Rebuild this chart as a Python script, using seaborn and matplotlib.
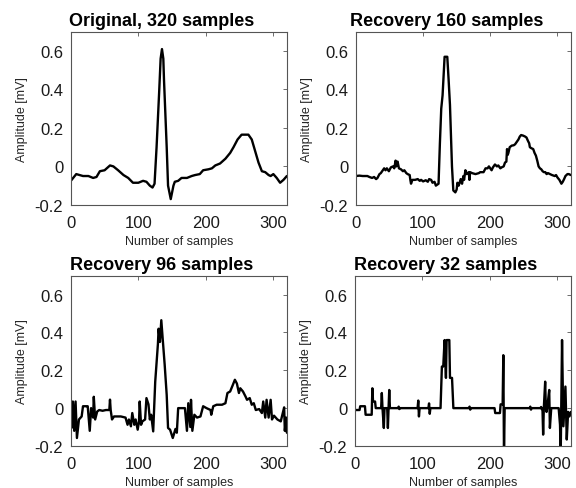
import numpy as np
import pandas as pd
import matplotlib
matplotlib.use("Agg")
import matplotlib.pyplot as plt
import seaborn as sns

# ---------------- data ----------------
titles = ["Original, 320 samples", "Recovery 160 samples",
          "Recovery 96 samples", "Recovery 32 samples"]
x_ticks = [0, 100, 200, 300]
y_ticks = [-0.2, 0, 0.2, 0.4, 0.6]
y_tick_labels = ["-0.2", "0", "0.2", "0.4", "0.6"]

orig_x = [0, 8, 13, 18, 26, 33, 38, 43, 50, 58,
          63, 70, 78, 85, 92, 100, 107, 112, 117, 121,
          124, 127, 131, 133, 135, 137, 138, 142, 144, 148,
          152, 154, 159, 164, 172, 179, 184, 191, 196, 204,
          209, 214, 221, 229, 236, 241, 247, 253, 263, 268,
          273, 278, 283, 288, 293, 296, 300, 305, 310, 315,
          320]
orig_y = [-0.075, -0.04, -0.045, -0.05, -0.05, -0.06, -0.055, -0.025, -0.02, 0.005,
          0.0, -0.02, -0.045, -0.06, -0.085, -0.085, -0.075, -0.08, -0.1, -0.11,
          -0.09, 0.1, 0.4, 0.56, 0.61, 0.56, 0.45, 0.1, -0.1, -0.17,
          -0.1, -0.08, -0.075, -0.06, -0.06, -0.05, -0.045, -0.04, -0.02, -0.015,
          -0.01, 0.005, 0.015, 0.04, 0.07, 0.1, 0.14, 0.165, 0.165, 0.14,
          0.08, 0.02, -0.025, -0.03, -0.045, -0.05, -0.04, -0.06, -0.085, -0.07,
          -0.05]

rec160_x = [0, 5, 10, 17, 20, 24, 27, 30, 32, 35,
            37, 40, 42, 44, 46, 49, 52, 55, 57, 59,
            60, 62, 64, 67, 70, 72, 75, 77, 80, 81,
            82, 84, 88, 92, 95, 97, 100, 104, 107, 109,
            112, 114, 117, 119, 121, 123, 125, 127, 129, 132,
            136, 138, 140, 143, 145, 148, 150, 151, 153, 156,
            158, 160, 161, 163, 165, 168, 169, 170, 173, 178,
            183, 185, 190, 193, 196, 198, 200, 202, 204, 207,
            210, 212, 215, 217, 220, 222, 224, 225, 226, 227,
            229, 232, 235, 237, 240, 242, 244, 246, 249, 252,
            254, 256, 258, 259, 261, 264, 266, 268, 270, 272,
            274, 276, 278, 280, 282, 284, 286, 289, 292, 296,
            298, 300, 303, 306, 308, 310, 312, 315, 317, 320]
rec160_y = [-0.05, -0.048, -0.05, -0.05, -0.055, -0.06, -0.055, -0.066, -0.06, -0.04,
            -0.035, -0.02, -0.01, -0.02, -0.01, -0.025, -0.005, 0.0, -0.01, 0.03,
            0.0, 0.025, -0.01, -0.015, -0.025, -0.02, -0.035, -0.04, -0.045, -0.07,
            -0.09, -0.07, -0.07, -0.066, -0.075, -0.07, -0.078, -0.072, -0.08, -0.066,
            -0.07, -0.085, -0.08, -0.1, -0.095, -0.09, 0.12, 0.3, 0.37, 0.57,
            0.57, 0.45, 0.32, 0.0, -0.125, -0.135, -0.12, -0.085, -0.1, -0.066,
            -0.09, -0.05, -0.07, -0.02, -0.04, -0.03, -0.07, -0.03, -0.035, -0.04,
            -0.035, -0.03, -0.03, -0.01, -0.01, 0.0, -0.01, -0.02, -0.005, 0.01,
            0.0, 0.005, -0.01, -0.005, 0.0, 0.02, 0.025, 0.09, 0.06, 0.07,
            0.1, 0.108, 0.11, 0.115, 0.13, 0.14, 0.155, 0.163, 0.16, 0.155,
            0.15, 0.134, 0.12, 0.1, 0.095, 0.09, 0.07, 0.056, 0.03, 0.0,
            -0.01, -0.015, -0.025, -0.03, -0.03, -0.04, -0.035, -0.04, -0.045, -0.05,
            -0.045, -0.057, -0.07, -0.09, -0.08, -0.066, -0.05, -0.04, -0.04, -0.045]

rec96_x = [0, 1, 3, 5, 7, 9, 12, 16, 18, 23,
           25, 28, 30, 33, 34, 36, 39, 42, 47, 52,
           57, 58, 59, 61, 64, 74, 81, 84, 86, 89,
           91, 94, 96, 99, 101, 102, 104, 106, 110, 112,
           115, 117, 119, 122, 125, 129, 130, 132, 134, 136,
           139, 142, 144, 147, 151, 155, 157, 159, 169, 172,
           174, 177, 178, 180, 183, 187, 192, 196, 201, 207,
           208, 211, 216, 224, 229, 232, 236, 240, 243, 246,
           249, 251, 255, 259, 261, 265, 268, 271, 274, 279,
           283, 285, 288, 290, 293, 296, 298, 301, 306, 311,
           313, 316, 317, 319, 320]
rec96_y = [-0.02, -0.105, 0.035, -0.12, 0.035, -0.158, -0.06, -0.044, 0.01, 0.01,
           0.01, -0.12, 0.0, -0.05, 0.06, -0.06, -0.018, -0.01, -0.014, -0.01,
           -0.01, 0.045, -0.01, -0.06, -0.044, -0.044, -0.05, -0.088, -0.06, -0.096,
           -0.026, -0.088, -0.06, -0.114, -0.07, 0.035, -0.088, -0.07, -0.06, 0.053,
           0.02, -0.06, -0.035, -0.123, 0.14, 0.34, 0.42, 0.35, 0.465, 0.37,
           0.23, 0.07, -0.105, -0.114, -0.158, -0.11, -0.13, 0.0, 0.0, -0.12,
           0.026, -0.1, 0.044, -0.12, -0.035, -0.05, -0.044, 0.01, 0.0, -0.01,
           -0.035, 0.01, 0.018, 0.018, 0.026, 0.08, 0.088, 0.123, 0.15, 0.13,
           0.08, 0.105, 0.088, 0.06, 0.044, 0.053, 0.018, 0.026, -0.01, -0.005,
           -0.026, 0.035, -0.05, 0.044, -0.05, 0.044, -0.06, -0.04, -0.06, -0.07,
           -0.04, 0.004, -0.12, -0.05, -0.13]

rec32_x = [0, 7, 8, 15, 16, 25, 26, 27, 30, 31,
           39, 40, 41, 43, 44, 48, 49, 50, 51, 52,
           64, 65, 66, 67, 93, 94, 95, 96, 109, 110,
           111, 112, 127, 129, 131, 133, 135, 136, 140, 141,
           144, 146, 169, 170, 171, 172, 207, 208, 215, 216,
           219, 220, 221, 222, 259, 260, 261, 262, 275, 276,
           277, 278, 279, 280, 282, 283, 284, 285, 288, 289,
           291, 302, 304, 305, 307, 309, 312, 314, 316, 318,
           320]
rec32_y = [-0.01, -0.01, 0.01, 0.01, -0.035, -0.035, 0.105, 0.035, 0.035, 0.0,
           0.0, 0.08, 0.0, -0.105, 0.0, 0.0, -0.105, 0.0, 0.096, 0.0,
           0.0, 0.008, -0.005, 0.0, 0.0, 0.04, -0.044, 0.0, 0.0, 0.025,
           -0.03, 0.0, 0.0, 0.22, 0.22, 0.36, 0.16, 0.36, 0.36, 0.16,
           0.16, 0.0, 0.0, 0.008, -0.008, 0.0, 0.0, -0.026, -0.026, 0.02,
           0.02, 0.28, -0.25, 0.0, 0.0, 0.008, -0.008, 0.0, 0.0, 0.006,
           -0.005, 0.0, -0.14, 0.0, 0.14, 0.0, -0.02, 0.0, 0.096, -0.105,
           0.0, 0.0, -0.088, -0.25, 0.36, -0.096, 0.114, -0.166, -0.02, -0.044,
           -0.02]

series = [(orig_x, orig_y), (rec160_x, rec160_y), (rec96_x, rec96_y), (rec32_x, rec32_y)]

# ---------------- style ----------------
sns.set_style("white")
plt.rcParams["font.family"] = ["Liberation Sans", "DejaVu Sans"]
plt.rcParams["axes.unicode_minus"] = False

fig = plt.figure(figsize=(5.76, 4.89), dpi=100)
positions = [
    [0.123, 0.579, 0.375, 0.354],
    [0.618, 0.579, 0.373, 0.354],
    [0.123, 0.086, 0.375, 0.348],
    [0.616, 0.086, 0.375, 0.348],
]

for pos, title, (xs, ys) in zip(positions, titles, series):
    ax = fig.add_axes(pos)
    df = pd.DataFrame({"x": xs, "y": ys})
    sns.lineplot(data=df, x="x", y="y", ax=ax, color="black", linewidth=1.7,
                 sort=False, estimator=None)
    ax.set_xlim(0, 320)
    ax.set_ylim(-0.2, 0.7)
    ax.set_xticks(x_ticks)
    ax.set_xticklabels([str(t) for t in x_ticks])
    ax.set_yticks(y_ticks)
    ax.set_yticklabels(y_tick_labels)
    ax.tick_params(direction="in", length=3, width=0.6, top=True, right=True,
                   labelsize=12, colors="#555555", labelcolor="#1a1a1a")
    ax.tick_params(axis="x", pad=7.5)
    ax.tick_params(axis="y", pad=5.5)
    for sp in ax.spines.values():
        sp.set_visible(True)
        sp.set_color("#555555")
        sp.set_linewidth(0.8)
    ax.set_xlabel("Number of samples", fontsize=9, color="#262626", labelpad=3.5)
    ax.set_ylabel("Amplitude [mV]", fontsize=9, color="#262626", labelpad=5)
    ax.set_title(title, fontsize=13, fontweight="bold", color="black", pad=5, x=0.42)

fig.savefig("out.png", dpi=100)
